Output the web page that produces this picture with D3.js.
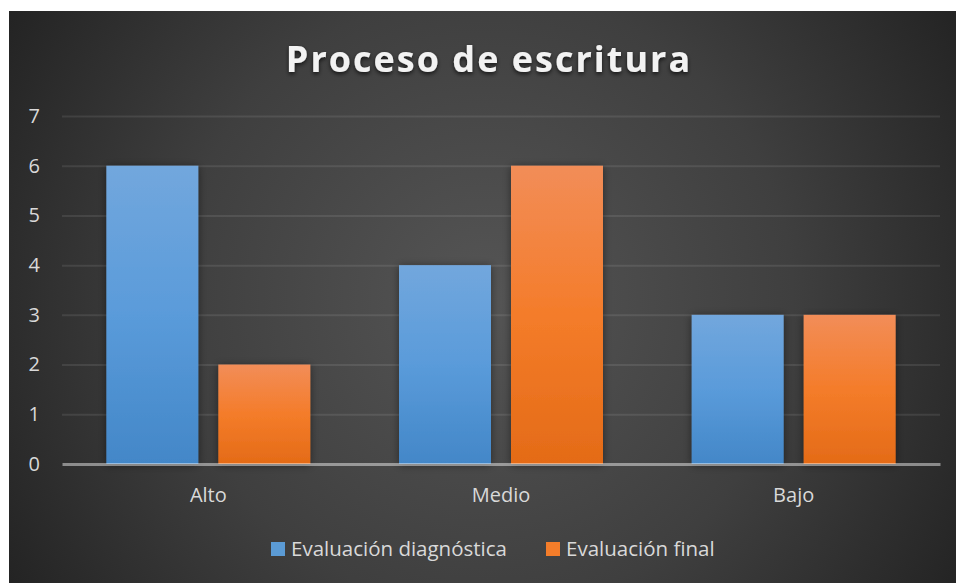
<!DOCTYPE html>
<html>
<head>
<meta charset="utf-8">
<script src="https://cdn.jsdelivr.net/npm/d3@7"></script>
<style>
  html, body { margin: 0; padding: 0; background: #ffffff; }
  svg { display: block; }
</style>
</head>
<body>
<svg id="chart" width="956" height="583"></svg>
<script>
// Chart data
const categories = ["Alto", "Medio", "Bajo"];
const seriesNames = ["Evaluación diagnóstica", "Evaluación final"];
const diagnostica = [6, 4, 3];
const final = [2, 6, 3];
const yTicks = [0, 1, 2, 3, 4, 5, 6, 7];
const titleText = "Proceso de escritura";

const W = 956, H = 583;
const frame = { x: 9, y: 11 };
const plot = { left: 62, right: 940, top: 116, bottom: 464 };
const labelFont = "'Open Sans', 'Noto Sans', sans-serif";

const svg = d3.select("#chart");
const defs = svg.append("defs");

// background: soft radial light in the middle, dark corners
const bg = defs.append("radialGradient")
  .attr("id", "bgGrad")
  .attr("gradientUnits", "userSpaceOnUse")
  .attr("cx", 485).attr("cy", 300).attr("r", 560);
bg.append("stop").attr("offset", "0").attr("stop-color", "#555555");
bg.append("stop").attr("offset", "0.55").attr("stop-color", "#3f3f3f");
bg.append("stop").attr("offset", "1").attr("stop-color", "#232323");

// bar fills
function barGradient(id, stops) {
  const g = defs.append("linearGradient").attr("id", id)
    .attr("x1", 0).attr("y1", 0).attr("x2", 0).attr("y2", 1);
  stops.forEach(([o, c]) => g.append("stop").attr("offset", o).attr("stop-color", c));
}
barGradient("blueGrad", [[0, "#72a7dd"], [0.5, "#5a9bda"], [1, "#4387c8"]]);
barGradient("orangeGrad", [[0, "#f28d58"], [0.5, "#f47c2a"], [1, "#e46b17"]]);

const shadow = defs.append("filter").attr("id", "barShadow")
  .attr("x", "-20%").attr("y", "-10%").attr("width", "140%").attr("height", "120%");
shadow.append("feDropShadow").attr("dx", 0).attr("dy", 1)
  .attr("stdDeviation", 4).attr("flood-color", "#000").attr("flood-opacity", 0.45);

const tShadow = defs.append("filter").attr("id", "titleShadow")
  .attr("x", "-10%").attr("y", "-30%").attr("width", "120%").attr("height", "160%");
tShadow.append("feDropShadow").attr("dx", 0).attr("dy", 2)
  .attr("stdDeviation", 2).attr("flood-color", "#000").attr("flood-opacity", 0.7);

svg.append("rect")
  .attr("x", frame.x).attr("y", frame.y)
  .attr("width", W - frame.x).attr("height", H - frame.y)
  .attr("fill", "url(#bgGrad)");

// scales
const x0 = d3.scaleBand().domain(categories).range([plot.left, plot.right]).padding(0);
const x1 = d3.scaleBand().domain(seriesNames).range([0, x0.bandwidth()])
  .paddingInner(0.1786).paddingOuter(0.396);
const y = d3.scaleLinear().domain([0, 7]).range([plot.bottom, plot.top]);
const color = d3.scaleOrdinal().domain(seriesNames).range(["url(#blueGrad)", "url(#orangeGrad)"]);
const swatch = d3.scaleOrdinal().domain(seriesNames).range(["#5b9bd5", "#f47d2a"]);

// gridlines
svg.append("g")
  .attr("transform", `translate(${plot.left},0)`)
  .call(d3.axisRight(y).tickValues(yTicks.filter(d => d > 0)).tickSize(plot.right - plot.left).tickFormat(""))
  .call(g => g.select(".domain").remove())
  .call(g => g.selectAll(".tick line").attr("stroke", "#ffffff").attr("stroke-opacity", 0.09).attr("stroke-width", 2));

// y tick labels
svg.append("g")
  .attr("transform", `translate(${plot.left},0)`)
  .call(d3.axisLeft(y).tickValues(yTicks).tickFormat(d3.format("d")).tickSize(0).tickPadding(22))
  .call(g => g.select(".domain").remove())
  .call(g => g.selectAll("text")
    .attr("fill", "#d9d9d9")
    .attr("font-family", labelFont)
    .attr("font-size", 20));

// bars
const rows = categories.map((c, i) => ({ cat: c, values: [diagnostica[i], final[i]] }));
svg.append("g").selectAll("g")
  .data(rows)
  .join("g")
  .attr("transform", d => `translate(${x0(d.cat)},0)`)
  .selectAll("rect")
  .data(d => d.values.map((v, j) => ({ key: seriesNames[j], value: v })))
  .join("rect")
  .attr("x", d => x1(d.key))
  .attr("width", x1.bandwidth())
  .attr("y", d => y(d.value))
  .attr("height", d => y(0) - y(d.value))
  .attr("fill", d => color(d.key))
  .attr("filter", "url(#barShadow)");

// category axis
svg.append("g")
  .attr("transform", `translate(0,${plot.bottom})`)
  .call(d3.axisBottom(x0).tickSize(0).tickPadding(24))
  .call(g => g.select(".domain")
    .attr("stroke", "#ffffff").attr("stroke-opacity", 0.45).attr("stroke-width", 3))
  .call(g => g.selectAll("text")
    .attr("fill", "#d9d9d9")
    .attr("font-family", labelFont)
    .attr("font-size", 20));

// title
svg.append("text")
  .attr("x", 489).attr("y", 72)
  .attr("text-anchor", "middle")
  .attr("fill", "#f2f2f2")
  .attr("font-family", "'Open Sans', sans-serif")
  .attr("font-weight", 700)
  .attr("font-size", 36)
  .attr("letter-spacing", 2)
  .attr("filter", "url(#titleShadow)")
  .text(titleText);

// legend
const legendX = [271, 546];
const legend = svg.append("g").selectAll("g")
  .data(seriesNames)
  .join("g")
  .attr("transform", (d, i) => `translate(${legendX[i]},542)`);
legend.append("rect")
  .attr("width", 14).attr("height", 14)
  .attr("fill", d => swatch(d));
legend.append("text")
  .attr("x", 20).attr("y", 14)
  .attr("fill", "#d9d9d9")
  .attr("font-family", labelFont)
  .attr("font-size", 20.5)
  .text(d => d);
</script>
</body>
</html>
